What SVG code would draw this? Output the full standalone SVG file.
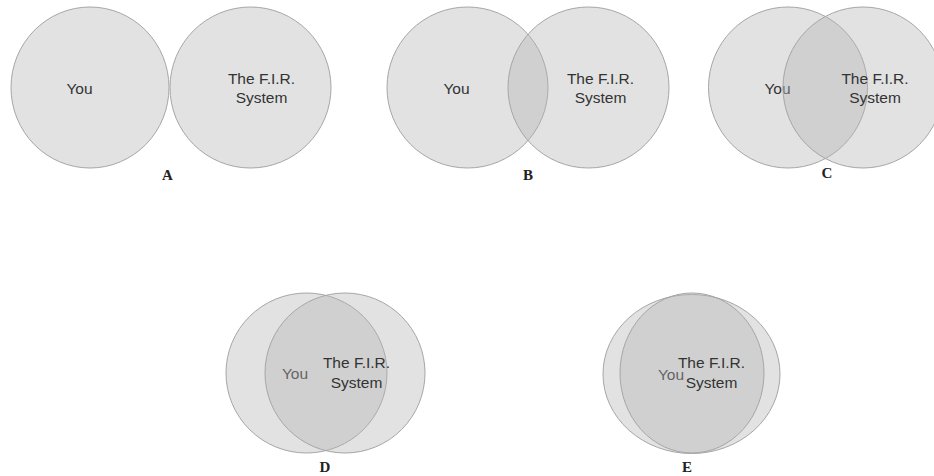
<svg xmlns="http://www.w3.org/2000/svg" width="934" height="476" viewBox="0 0 934 476">
  <style>
    .c { fill: #b3b3b3; fill-opacity: 0.38; stroke: #a6a6a6; stroke-width: 1; }
    .t { font-family: "Liberation Sans", Arial, sans-serif; font-size: 15.5px; fill: #333333; text-anchor: middle; }
    .lab { font-family: "Liberation Serif", "Times New Roman", serif; font-size: 15px; font-weight: bold; fill: #222; text-anchor: middle; }
  </style>
  <rect width="934" height="476" fill="#ffffff"/>

  <g id="panelA">
    <g id="A-you">
      <ellipse class="c" cx="90" cy="87.5" rx="79" ry="80.5"/>
      <text class="t" x="79.5" y="94">You</text>
    </g>
    <g id="A-fir">
      <ellipse class="c" cx="250.5" cy="87.5" rx="80.5" ry="80.5"/>
      <text class="t" x="261.5" y="84">The F.I.R.</text>
      <text class="t" x="261.5" y="103">System</text>
    </g>
    <text class="lab" x="167.5" y="180">A</text>
  </g>

  <g id="panelB">
    <g id="B-you">
      <ellipse class="c" cx="467.5" cy="87.5" rx="80.5" ry="80.5"/>
      <text class="t" x="456.5" y="94">You</text>
    </g>
    <g id="B-fir">
      <ellipse class="c" cx="588.5" cy="87.5" rx="80.5" ry="80.5"/>
      <text class="t" x="600.5" y="84">The F.I.R.</text>
      <text class="t" x="600.5" y="103">System</text>
    </g>
    <text class="lab" x="528" y="180">B</text>
  </g>

  <g id="panelC">
    <g id="C-you">
      <ellipse class="c" cx="788" cy="87.5" rx="79.5" ry="80.5"/>
      <text class="t" x="777.5" y="94">You</text>
    </g>
    <g id="C-fir">
      <ellipse class="c" cx="863" cy="87.5" rx="80" ry="80.5"/>
      <text class="t" x="875" y="84">The F.I.R.</text>
      <text class="t" x="875" y="103">System</text>
    </g>
    <text class="lab" x="827" y="178">C</text>
  </g>

  <g id="panelD">
    <g id="D-you">
      <ellipse class="c" cx="306.5" cy="373" rx="80.5" ry="80"/>
      <text class="t" x="295" y="379">You</text>
    </g>
    <g id="D-fir">
      <ellipse class="c" cx="345" cy="373" rx="80" ry="80"/>
      <text class="t" x="356.5" y="368">The F.I.R.</text>
      <text class="t" x="356.5" y="388">System</text>
    </g>
    <text class="lab" x="325" y="472">D</text>
  </g>

  <g id="panelE">
    <g id="E-you">
      <ellipse class="c" cx="691.5" cy="374" rx="88.5" ry="79.5"/>
      <text class="t" x="671" y="380">You</text>
    </g>
    <g id="E-fir">
      <ellipse class="c" cx="692" cy="373" rx="72" ry="80"/>
      <text class="t" x="711.5" y="368">The F.I.R.</text>
      <text class="t" x="711.5" y="388">System</text>
    </g>
    <text class="lab" x="687" y="472">E</text>
  </g>
</svg>
